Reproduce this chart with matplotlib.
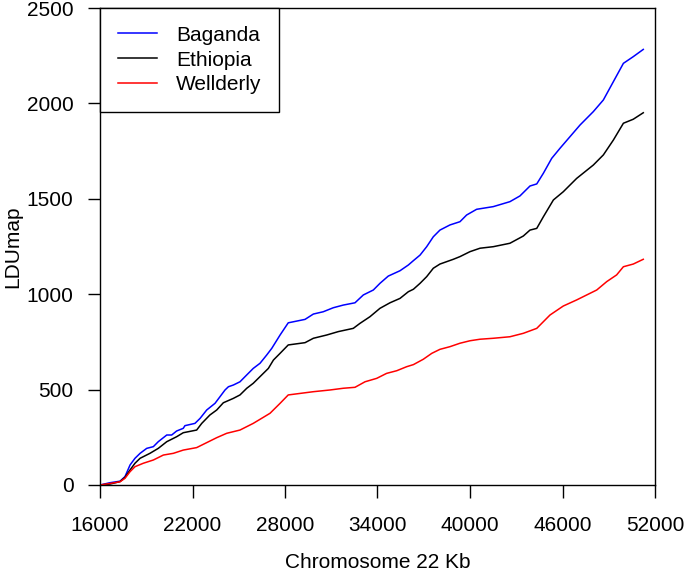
import matplotlib.pyplot as plt

plt.rcParams['font.family'] = ['Liberation Sans', 'DejaVu Sans']

# Posiciones en Kb y valores LDU
baganda_x = [16000, 16650, 17300, 17620, 17950, 18270, 18600, 19030, 19460, 19780,
             20330, 20650, 20970, 21400, 21510, 22160, 22490, 22920, 23460, 24110,
             24330, 24650, 25080, 25520, 25940, 26380, 26810, 27140, 27680, 28210,
             29300, 29840, 30480, 31130, 31780, 32540, 33080, 33730, 34160, 34700,
             35460, 36000, 36330, 36760, 37190, 37620, 38050, 38700, 39350, 39780,
             40430, 41510, 42590, 43240, 43890, 44330, 44760, 45300, 45840, 46490,
             47140, 48000, 48650, 49300, 49950, 50590, 51240]
baganda_y = [0, 12, 20, 44, 105, 140, 166, 192, 201, 227,
             262, 262, 283, 297, 311, 323, 349, 393, 428, 498,
             515, 524, 541, 577, 611, 638, 681, 716, 786, 850,
             868, 896, 908, 929, 943, 955, 996, 1022, 1057, 1095,
             1123, 1153, 1176, 1205, 1249, 1301, 1336, 1363, 1380, 1415,
             1445, 1459, 1485, 1515, 1567, 1578, 1634, 1712, 1765, 1826,
             1887, 1957, 2018, 2114, 2210, 2245, 2283]

ethiopia_x = [16000, 16650, 17300, 17620, 17950, 18270, 18600, 19240, 19780, 20330,
              20970, 21400, 22270, 22600, 23130, 23570, 24000, 24650, 25080, 25520,
              25940, 26380, 26920, 27250, 27680, 28210, 29300, 29840, 30700, 31460,
              32430, 32860, 33510, 34160, 34810, 35460, 36000, 36330, 36760, 37190,
              37620, 38050, 38920, 39350, 40000, 40650, 41510, 42590, 43460, 43890,
              44330, 44760, 45410, 46050, 46920, 48000, 48650, 49300, 49950, 50590,
              51240]
ethiopia_y = [0, 5, 18, 40, 79, 114, 140, 166, 192, 227,
              253, 274, 288, 323, 367, 393, 431, 454, 472, 507,
              533, 568, 611, 655, 690, 734, 746, 769, 786, 804,
              821, 847, 882, 926, 955, 978, 1013, 1026, 1057, 1092,
              1136, 1158, 1183, 1197, 1223, 1241, 1249, 1267, 1305, 1336,
              1345, 1406, 1494, 1537, 1607, 1677, 1730, 1808, 1896, 1917,
              1951]

wellderly_x = [16000, 16650, 17300, 17620, 17950, 18270, 18810, 19460, 20110, 20760,
               21400, 22270, 22920, 23570, 24220, 25080, 25940, 26600, 27030, 27680,
               28210, 29840, 30920, 31780, 32540, 33190, 33950, 34590, 35250, 35890,
               36330, 36970, 37520, 38050, 38700, 39350, 40000, 40650, 41510, 42590,
               43460, 44330, 45190, 46050, 46920, 48220, 48870, 49510, 49950, 50590,
               51240]
wellderly_y = [0, 8, 17, 35, 70, 96, 114, 131, 157, 166,
               183, 196, 222, 248, 271, 288, 323, 355, 376, 428,
               472, 489, 498, 507, 512, 541, 559, 585, 599, 620,
               631, 659, 690, 711, 725, 743, 756, 764, 769, 777,
               795, 821, 891, 938, 970, 1022, 1066, 1101, 1144, 1158,
               1183]

x_ticks = [16000, 22000, 28000, 34000, 40000, 46000, 52000]
y_ticks = [0, 500, 1000, 1500, 2000, 2500]

fig = plt.figure(figsize=(6.85, 5.73), dpi=100)
ax = fig.add_axes([100 / 685, 1 - 485 / 573, 555 / 685, 477 / 573])

ax.plot(baganda_x, baganda_y, color='blue', lw=1.1, label='Baganda')
ax.plot(ethiopia_x, ethiopia_y, color='black', lw=1.1, label='Ethiopia')
ax.plot(wellderly_x, wellderly_y, color='red', lw=1.1, label='Wellderly')

ax.set_xlim(16000, 52000)
ax.set_ylim(0, 2500)
ax.set_xticks(x_ticks)
ax.set_yticks(y_ticks)
ax.tick_params(direction='out', length=9, width=1, labelsize=15, pad=10)
ax.tick_params(axis='x', pad=13)
for s in ax.spines.values():
    s.set_linewidth(1.0)

ax.set_xlabel('Chromosome 22 Kb', fontsize=15, labelpad=13)
ax.set_ylabel('LDUmap', fontsize=15, labelpad=3)

leg = ax.legend(loc='upper left', bbox_to_anchor=(0, 1), borderaxespad=0,
                fontsize=15, frameon=True, fancybox=False, framealpha=1,
                edgecolor='black', handlelength=1.9, handletextpad=0.9,
                borderpad=0.85, labelspacing=0.28)
leg.get_frame().set_linewidth(1.0)

fig.savefig('out.png', dpi=100)
